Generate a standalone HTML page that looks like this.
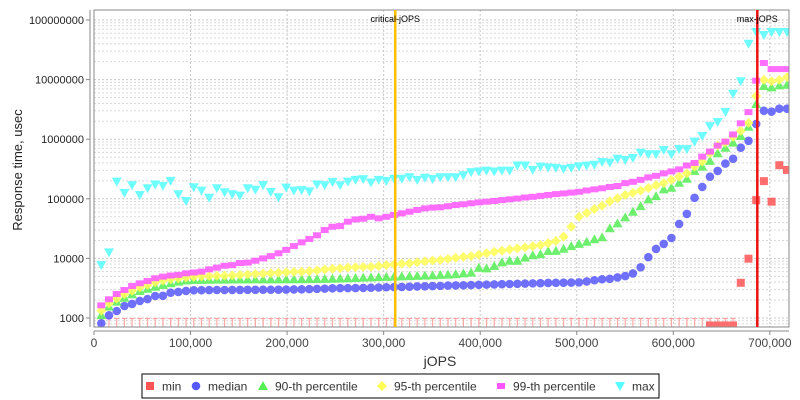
<!DOCTYPE html>
<html><head><meta charset="utf-8"><style>
html,body{margin:0;padding:0;background:#fff;}
svg{display:block;font-family:"Liberation Sans","DejaVu Sans",sans-serif;}
</style></head><body>
<svg id="chart" width="800" height="400" viewBox="0 0 800 400" xmlns="http://www.w3.org/2000/svg">
<rect x="0" y="0" width="800" height="400" fill="#fff"/>
<g id="grid"></g>
<g id="marks"></g>
<rect x="94" y="10" width="695" height="317" fill="none" stroke="#888" stroke-width="1"/>
<g id="axes"></g>
<text x="440" y="366" text-anchor="middle" font-size="14" fill="#333">jOPS</text>
<text x="22" y="170" text-anchor="middle" font-size="13" fill="#222" transform="rotate(-90 22 170)">Response time, usec</text>
<g id="legend">
<rect x="142" y="374" width="517" height="24" fill="#fff" stroke="#000" stroke-width="1"/>
</g>
</svg>
<script>
const categories = [];
const jopsStart = 7560, jopsStep = 7980;
for (let k = 0; k < 90; k++) categories.push(jopsStart + jopsStep * k);
const xTicks = [0,100000,200000,300000,400000,500000,600000,700000];
const xTickLabels = ["0","100,000","200,000","300,000","400,000","500,000","600,000","700,000"];
const yTicks = [1000,10000,100000,1000000,10000000,100000000];
const yTickLabels = ["1000","10000","100000","1000000","10000000","100000000"];
const criticalJops = 312000;
const maxJops = 687000;

const minVals = [100,100,100,100,100,100,100,100,100,100,100,100,100,100,100,100,100,100,100,100,
100,100,100,100,100,100,100,100,100,100,100,100,100,100,100,100,100,100,100,100,
100,100,100,100,100,100,100,100,100,100,100,100,100,100,100,100,100,100,100,100,
100,100,100,100,100,100,100,100,100,100,100,100,100,100,100,100,100,100,100,750,
750,750,750,3900,9900,95000,198000,89500,366000,305000];
const medianVals = [815,1110,1310,1590,1720,1930,2080,2340,2360,2660,2740,2840,2920,2930,2940,2950,2950,2960,2960,2970,
2970,2980,2980,2990,3000,3010,3030,3050,3080,3110,3150,3160,3170,3180,3200,3220,3250,3280,3300,3320,
3350,3380,3400,3430,3460,3500,3520,3540,3570,3600,3630,3660,3690,3720,3750,3780,3810,3840,3870,3890,
3910,3930,3960,4100,4300,4470,4550,4800,5050,5600,7100,10500,14400,17500,22000,37800,55700,104000,158000,235000,
293000,390000,470000,720000,940000,1800000,3000000,2900000,3250000,3250000];
const p90Vals = [1120,1550,1880,2190,2500,2840,3100,3350,3580,3820,4070,4250,4340,4360,4380,4400,4400,4420,4420,4430,
4440,4440,4450,4450,4460,4460,4470,4490,4510,4530,4560,4600,4650,4700,4750,4800,4850,4900,4950,5000,
5050,5100,5150,5200,5280,5330,5450,5620,5770,6980,6800,7440,8580,9150,9150,10300,11300,11800,13300,13400,
14500,16100,17500,19000,21000,22600,32000,38700,48800,60700,75400,97700,111000,144000,153000,186000,217000,294000,347000,432000,
580000,720000,875000,1130000,1620000,3900000,7800000,7400000,8000000,8200000];
const p95Vals = [1330,1760,2110,2500,2870,3270,3580,3970,4250,4470,4640,4770,4930,5000,5050,5100,5150,5200,5300,5400,
5470,5550,5650,5750,5850,5950,5980,6100,6300,6500,6700,6850,7000,7100,7200,7250,7450,7700,7950,8150,
8300,8600,8900,9200,9400,9800,10200,10600,10900,11500,12200,12900,13500,14100,14700,15300,16000,16700,18000,19600,
23200,34000,50000,58000,67000,76600,90600,102000,116000,126000,137000,152000,169000,183000,208000,236000,267000,347000,420000,580000,
780000,875000,1100000,1380000,1880000,5300000,9900000,9400000,9900000,11000000];
const p99Vals = [1630,2060,2530,2950,3440,3820,4170,4640,4940,5160,5300,5620,5800,6000,6550,7000,7530,7700,8370,8500,
9150,10000,10900,12200,13900,16100,18600,21200,24400,29900,34000,35000,41300,45100,46300,50000,47000,50000,53600,57000,
60700,65000,69000,71000,72000,75000,78600,81000,84000,87000,89500,92000,95000,98000,101000,105000,108000,112000,116000,120000,
123000,127000,131000,138000,144000,150000,158000,164000,183000,193000,208000,229000,243000,267000,288000,312000,362000,400000,510000,620000,
780000,910000,1200000,1850000,2850000,9600000,19000000,15000000,15000000,15000000];
const maxVals = [7700,12600,194000,126000,169000,116000,150000,174000,165000,200000,119000,92000,156000,137000,104000,150000,129000,119000,113000,150000,
142000,170000,130000,106000,154000,137000,140000,133000,174000,169000,191000,169000,194000,208000,214000,188000,208000,200000,217000,217000,
230000,208000,226000,215000,230000,230000,230000,248000,280000,287000,297000,287000,297000,297000,362000,362000,305000,347000,335000,330000,
317000,330000,350000,360000,372000,414000,404000,470000,447000,483000,592000,560000,560000,660000,560000,686000,680000,910000,1130000,1660000,
1940000,2860000,5800000,9400000,40000000,63000000,56000000,63000000,63000000,63000000];

const NS = "http://www.w3.org/2000/svg";
const PL = 94, PR = 789, PT = 10, PB = 327;
function xScale(v){ return 94 + v * 0.0009655; }
function yScale(v){ return 318 - (Math.log10(v) - 3) * 59.6; }
function mk(tag, attrs, parent){
  const e = document.createElementNS(NS, tag);
  for (const k in attrs) e.setAttribute(k, attrs[k]);
  parent.appendChild(e);
  return e;
}
const grid = document.getElementById('grid');
const axes = document.getElementById('axes');
const marks = document.getElementById('marks');

// gridlines
for (let d = 3; d <= 8; d++) {
  for (let m = 1; m <= 9; m++) {
    const v = m * Math.pow(10, d);
    const y = yScale(v);
    if (y < PT || y > PB) continue;
    const g = mk('line', {x1:PL, x2:PR, y1:y, y2:y, stroke: m===1?'#c8c8c8':'#d8d8d8', 'stroke-width':1, 'stroke-dasharray':'2,2'}, grid);
    
    
  }
}
// also values below 1000 (minor)
for (let m = 8; m <= 9; m++) {
  const y = yScale(m * 100);
  if (y > PB) continue;
  const g = mk('line', {x1:PL, x2:PR, y1:y, y2:y, stroke:'#d8d8d8', 'stroke-width':1, 'stroke-dasharray':'2,2'}, grid);
  
  
}
xTicks.forEach((t, i) => {
  const x = xScale(t);
  if (i > 0) {
    const g = mk('line', {x1:x, x2:x, y1:PT, y2:PB, stroke:'#c8c8c8', 'stroke-width':1, 'stroke-dasharray':'2,2'}, grid);
    
    
  }
  const tk = mk('line', {x1:x, x2:x, y1:331, y2:335, stroke:'#888'}, axes);
  
  
  const tl = mk('text', {x:x, y:347, 'text-anchor':'middle', 'font-size':12, fill:'#444'}, axes);
  tl.textContent = xTickLabels[i];
  
  
});
const xa = mk('line', {x1:PL, x2:PR, y1:331, y2:331, stroke:'#888'}, axes);


const ya = mk('line', {x1:90, x2:90, y1:PT, y2:PB, stroke:'#888'}, axes);


yTicks.forEach((t, i) => {
  const y = yScale(t);
  const tk = mk('line', {x1:86, x2:90, y1:y, y2:y, stroke:'#888'}, axes);
  
  
  const tl = mk('text', {x:84, y:y + 4, 'text-anchor':'end', 'font-size':11, fill:'#222'}, axes);
  tl.textContent = yTickLabels[i];
  
  
});

// markers
function marker(shape, x, y, color, parent){
  let e;
  if (shape === 'square') e = mk('rect', {x:x-4, y:y-4, width:8, height:8, fill:color}, parent);
  else if (shape === 'circle') e = mk('circle', {cx:x, cy:y, r:4.3, fill:color}, parent);
  else if (shape === 'up') e = mk('polygon', {points:`${x},${y-5} ${x+5},${y+4} ${x-5},${y+4}`, fill:color}, parent);
  else if (shape === 'diamond') e = mk('polygon', {points:`${x},${y-5} ${x+5},${y} ${x},${y+5} ${x-5},${y}`, fill:color}, parent);
  else if (shape === 'bar') e = mk('rect', {x:x-4, y:y-3, width:8, height:6, fill:color}, parent);
  else if (shape === 'down') e = mk('polygon', {points:`${x-5},${y-4} ${x+5},${y-4} ${x},${y+5}`, fill:color}, parent);
  return e;
}
const clip = mk('clipPath', {id:'plotclip'}, document.getElementById('chart'));
mk('rect', {x:PL, y:PT, width:PR-PL, height:PB-PT}, clip);
marks.setAttribute('clip-path', 'url(#plotclip)');

const series = [
  {name:'min', vals:minVals, shape:'square', color:'#ff5555'},
  {name:'median', vals:medianVals, shape:'circle', color:'#5858ff'},
  {name:'p90', vals:p90Vals, shape:'up', color:'#55ee55'},
  {name:'p95', vals:p95Vals, shape:'diamond', color:'#ffff55'},
  {name:'p99', vals:p99Vals, shape:'bar', color:'#ff55ff'},
  {name:'max', vals:maxVals, shape:'down', color:'#55ffff'}
];
series.forEach(s => {
  const g = mk('g', {opacity:0.85}, marks);
  
  
  s.vals.forEach((v, i) => {
    const x = xScale(categories[i]);
    if (s.name === 'min' && v < 1000) {
      const t = mk('path', {d:`M${x-2.5},318.5 H${x+2.5} M${x},318.5 V327`, stroke:'#ff9999', 'stroke-width':1.2, fill:'none'}, g);
      
      
      if (v < 600) return;
    }
    const m = marker(s.shape, x, yScale(v), s.color, g);
    
    
  });
});

// threshold lines
const cx = xScale(criticalJops);
const cl = mk('line', {x1:cx, x2:cx, y1:PT, y2:PB, stroke:'#ffc000', 'stroke-width':2.5}, document.getElementById('chart'));


const ct = mk('text', {x:cx, y:22, 'text-anchor':'middle', 'font-size':9, fill:'#000'}, document.getElementById('chart'));
ct.textContent = 'critical-jOPS';


const mx = xScale(maxJops);
const ml = mk('line', {x1:mx, x2:mx, y1:PT, y2:PB, stroke:'#ee1111', 'stroke-width':2.5}, document.getElementById('chart'));


const mt = mk('text', {x:mx, y:22, 'text-anchor':'middle', 'font-size':9, fill:'#000'}, document.getElementById('chart'));
mt.textContent = 'max-jOPS';



// legend
const legend = document.getElementById('legend');
const legendItems = [
  {label:'min', shape:'square', color:'#ff5555', x:150},
  {label:'median', shape:'circle', color:'#5858ff', x:196},
  {label:'90-th percentile', shape:'up', color:'#55ee55', x:263},
  {label:'95-th percentile', shape:'diamond', color:'#ffff55', x:382},
  {label:'99-th percentile', shape:'bar', color:'#ff55ff', x:501},
  {label:'max', shape:'down', color:'#55ffff', x:620}
];
legendItems.forEach(it => {
  const g = mk('g', {}, legend);
  
  
  marker(it.shape, it.x, 386, it.color, g);
  const t = mk('text', {x:it.x + 12, y:390.5, 'font-size':12, fill:'#333'}, g);
  t.textContent = it.label;
});
</script>
</body></html>
